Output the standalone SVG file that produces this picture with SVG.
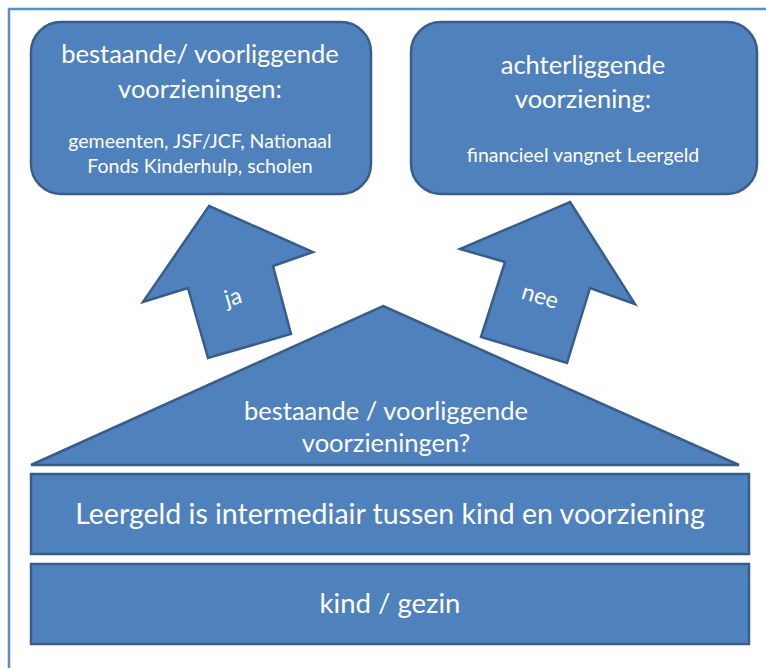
<svg xmlns="http://www.w3.org/2000/svg" width="766" height="668" viewBox="0 0 766 668">
<style>
.shape{fill:#4F81BD;stroke:#385D8A;stroke-width:2.5;stroke-linejoin:miter}
.t{fill:#FFFFFF;font-family:Lato,"Open Sans","Liberation Sans",sans-serif;text-anchor:middle}
.frame{stroke:#5B8DCB;stroke-width:2.5;fill:none}
</style>
<rect width="766" height="668" fill="#FFFFFF"/>
<g id="frame">
<path class="frame" d="M9,668 V9 H766"/>
</g>
<g id="box-bestaande">
<rect class="shape" x="31" y="22" width="340" height="172" rx="30" ry="30"/>
<text class="t" x="200" y="63" font-size="25.5">bestaande/ voorliggende</text>
<text class="t" x="200" y="98" font-size="25.5">voorzieningen:</text>
<text class="t" x="200" y="148" font-size="19.5">gemeenten, JSF/JCF, Nationaal</text>
<text class="t" x="200" y="173" font-size="19.5">Fonds Kinderhulp, scholen</text>
</g>
<g id="box-achterliggende">
<rect class="shape" x="411" y="22" width="346" height="172" rx="30" ry="30"/>
<text class="t" x="583" y="74" font-size="25.5">achterliggende</text>
<text class="t" x="583" y="108" font-size="25.5">voorziening:</text>
<text class="t" x="583" y="162" font-size="19.5">financieel vangnet Leergeld</text>
</g>
<g id="connectors">
<g id="arrow-ja">
<polygon class="shape" points="209,206 313,252 273,266 291,334 208,358 188,288 143,302"/>
<text class="t" x="233" y="305" font-size="23" transform="rotate(-16 233 297)">ja</text>
</g>
<g id="arrow-nee">
<polygon class="shape" points="570,202 635,304 590,288 567,363 481,337 505,262 460,249"/>
<text class="t" x="540" y="304" font-size="23" transform="rotate(17 540 297)">nee</text>
</g>
</g>
<g id="triangle">
<polygon class="shape" points="383,306 739,465 31,465"/>
<text class="t" x="386" y="420" font-size="25.5">bestaande / voorliggende</text>
<text class="t" x="386" y="452" font-size="25.5">voorzieningen?</text>
</g>
<g id="bar-leergeld">
<rect class="shape" x="31" y="474" width="718" height="80"/>
<text class="t" x="390" y="524" font-size="28.5">Leergeld is intermediair tussen kind en voorziening</text>
</g>
<g id="bar-kind">
<rect class="shape" x="31" y="564" width="718" height="80"/>
<text class="t" x="390" y="613" font-size="27.5">kind / gezin</text>
</g>
</svg>
